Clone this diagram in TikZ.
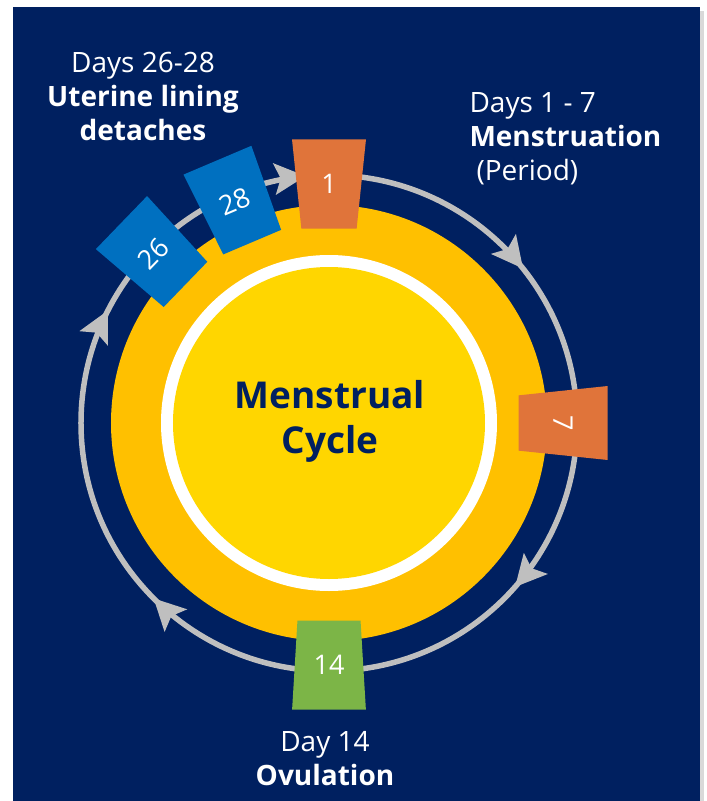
\documentclass[tikz,border=0pt]{standalone}
\usepackage{fontspec}
\setmainfont{Open Sans}
\usetikzlibrary{arrows.meta, shapes.geometric, decorations.markings}

\definecolor{bgnavy}{RGB}{0,32,96}
\definecolor{ringyellow}{RGB}{255,192,0}
\definecolor{coreyellow}{RGB}{255,214,0}
\definecolor{ringgrey}{RGB}{191,191,191}
\definecolor{dayorange}{RGB}{224,116,58}
\definecolor{dayblue}{RGB}{0,112,192}
\definecolor{daygreen}{RGB}{124,181,71}

\tikzset{ringtip/.tip={Stealth[length=31pt,width=31pt,inset=6pt]}}

\begin{document}
\begin{tikzpicture}[x=1pt, y=1pt]
\useasboundingbox (-329,-378) rectangle (378,423);
\fill[white] (-329,-378) rectangle (378,423);
\fill[black!15] (-312,412) rectangle (375,-378);
\fill[bgnavy] (-316,416) rectangle (371,-378);

% yellow disc with white ring
\fill[ringyellow] (0,0) circle[radius=218];
\fill[white] (0,0) circle[radius=168];
\fill[coreyellow] (0,0) circle[radius=156];

% grey cycle, running clockwise from day 1
\draw[ringgrey, line width=5.5, postaction={decorate},
      decoration={markings,
        mark=at position 0.143 with {\arrow{ringtip}},
        mark=at position 0.365 with {\arrow{ringtip}},
        mark=at position 0.625 with {\arrow{ringtip}},
        mark=at position 0.825 with {\arrow{ringtip}},
        mark=at position 0.985 with {\arrow{ringtip}}}]
  (90:248) arc[start angle=90, end angle=-270, radius=248];

\node (title) at (1,2) [align=center, text=bgnavy,
      font=\bfseries\fontsize{37}{45}\selectfont] {Menstrual\\Cycle};

\begin{scope}[every node/.style={trapezium, trapezium stretches=true,
                trapezium angle=97.7, minimum width=74, minimum height=89,
                inner sep=0pt, text=white, font=\fontsize{27}{27}\selectfont}]
    \node (day1) at (90:239) [fill=dayorange] {1};
    \node (day7) at (0:234) [fill=dayorange, rotate=-90] {7};
    \node (day14) at (-90:242) [fill=daygreen, trapezium angle=82.3] {14};
    \node (day26) at (136:244) [fill=dayblue, rotate=46] {26};
    \node (day28) at (113:241) [fill=dayblue, rotate=23] {28};
\end{scope}

\begin{scope}[every node/.style={text=white, font=\fontsize{28}{34}\selectfont}]
    \node (lining) at (-186,327) [align=center]
        {Days 26-28\\\textbf{Uterine lining}\\\textbf{detaches}};
    \node (period) at (137,284) [anchor=west, align=left]
        {Days 1 - 7\\\textbf{Menstruation}\\\hspace*{7pt}(Period)};
    \node (ovulation) at (-4,-336) [align=center]
        {Day 14\\\textbf{Ovulation}};
\end{scope}
\end{tikzpicture}
\end{document}
